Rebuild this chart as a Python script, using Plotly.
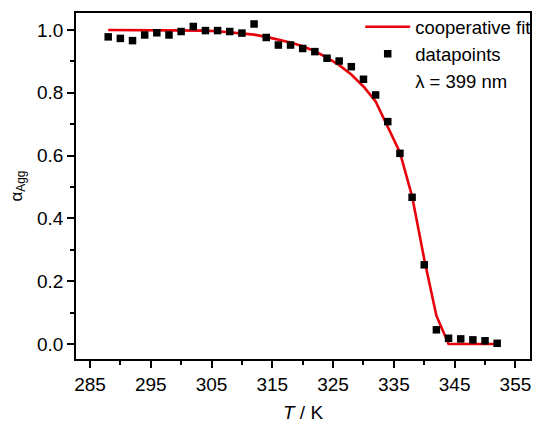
import plotly.graph_objects as go

T = [288, 290, 292, 294, 296, 298, 300, 302, 304, 306, 308, 310, 312, 314, 316,
     318, 320, 322, 324, 326, 328, 330, 332, 334, 336, 338, 340, 342, 344, 346,
     348, 350, 352]
alpha_data = [0.978, 0.973, 0.966, 0.984, 0.991, 0.984, 0.995, 1.011, 0.998, 0.998,
              0.995, 0.990, 1.019, 0.976, 0.952, 0.952, 0.941, 0.931, 0.910, 0.901,
              0.883, 0.843, 0.793, 0.708, 0.607, 0.467, 0.252, 0.045, 0.018, 0.016,
              0.013, 0.010, 0.002]
alpha_fit = [1.0, 1.0, 1.0, 1.0, 1.0, 1.0, 1.0, 0.999, 0.998, 0.996,
             0.993, 0.990, 0.985, 0.978, 0.970, 0.960, 0.948, 0.932, 0.912, 0.888,
             0.858, 0.820, 0.772, 0.690, 0.610, 0.470, 0.270, 0.090, 0.0, 0.0,
             0.0, 0.0, 0.0]
x_ticks = [285, 295, 305, 315, 325, 335, 345, 355]
y_ticks = [0.0, 0.2, 0.4, 0.6, 0.8, 1.0]

FONT = "Liberation Sans, Arial, sans-serif"

fig = go.Figure()
fig.add_trace(go.Scatter(x=T, y=alpha_fit, mode="lines", name="cooperative fit",
                         line=dict(color="#e8000b", width=2.6)))
fig.add_trace(go.Scatter(x=T, y=alpha_data, mode="markers", name="datapoints",
                         marker=dict(symbol="square", size=7.5, color="black")))
fig.add_trace(go.Scatter(x=[None], y=[None], mode="lines", name="λ = 399 nm",
                         line=dict(color="rgba(0,0,0,0)", width=0)))

fig.update_layout(
    width=540, height=423,
    margin=dict(l=76, r=4, t=13, b=64),
    paper_bgcolor="white", plot_bgcolor="white",
    font=dict(family=FONT, size=19, color="black"),
    showlegend=True,
    legend=dict(x=0.626, y=1.014, xanchor="left", yanchor="top",
                bgcolor="rgba(0,0,0,0)", font=dict(size=18.5),
                tracegroupgap=0, itemwidth=45),
    xaxis=dict(range=[282.7, 357.4], tickvals=x_ticks, ticktext=[str(v) for v in x_ticks],
               ticks="outside", ticklen=7, tickwidth=1.5, tickcolor="black",
               showline=True, linecolor="black", linewidth=1.8, mirror=True,
               showgrid=False, zeroline=False,
               minor=dict(dtick=5, tick0=285, ticks="outside", ticklen=4, tickwidth=1.5, tickcolor="black"),
               title=dict(text="<i>T</i> / K", font=dict(size=19), standoff=12)),
    yaxis=dict(range=[-0.048, 1.054], tickvals=y_ticks, ticktext=["%.1f" % v for v in y_ticks],
               ticks="outside", ticklen=7, tickwidth=1.5, tickcolor="black",
               showline=True, linecolor="black", linewidth=1.8, mirror=True,
               showgrid=False, zeroline=False,
               minor=dict(dtick=0.1, tick0=0, ticks="outside", ticklen=4, tickwidth=1.5, tickcolor="black"),
               title=dict(text="α<sub>Agg</sub>", font=dict(size=17), standoff=10)),
)

fig.write_html("out.html")
